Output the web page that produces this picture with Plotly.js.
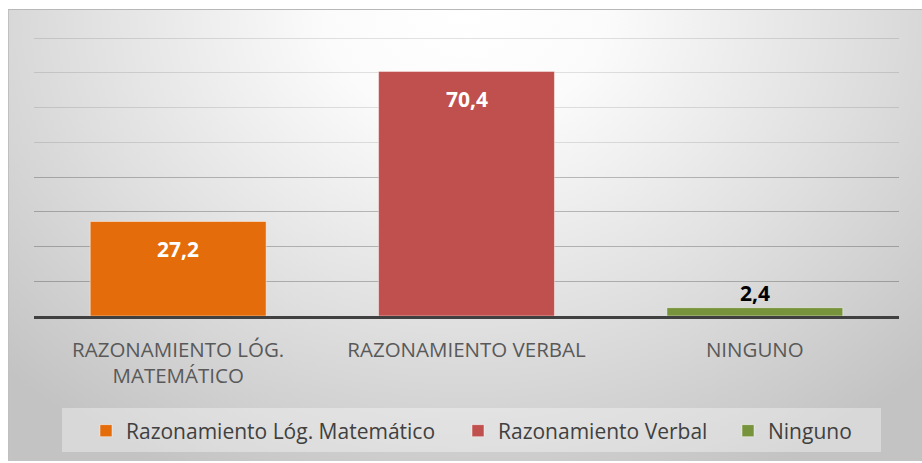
<!DOCTYPE html>
<html>
<head>
<meta charset="utf-8">
<script src="https://cdn.plot.ly/plotly-3.0.1.min.js"></script>
<style>
  html, body { margin: 0; padding: 0; background: #ffffff; }
  #wrap { position: relative; width: 922px; height: 463px; overflow: hidden; }
  #bg { position: absolute; left: 8px; top: 9px; right: 0; bottom: 2px;
        border-top: 1px solid #b8b8b8; border-left: 1px solid #c0c0c0;
        background: radial-gradient(ellipse 70% 115% at 50% 0%, #ffffff 0%, #fbfbfb 22%, #dfdfdf 62%, #c3c3c3 100%); }
  #chart { position: absolute; left: 0; top: 0; width: 922px; height: 463px; }
</style>
</head>
<body>
<div id="wrap">
  <div id="bg"></div>
  <div id="chart"></div>
</div>
<script>
// ---- data ----
var categories = ["RAZONAMIENTO LÓG.<br>MATEMÁTICO", "RAZONAMIENTO VERBAL", "NINGUNO"];
var seriesNames = ["Razonamiento Lóg. Matemático", "Razonamiento Verbal", "Ninguno"];
var values = [27.2, 70.4, 2.4];
var barColors = ["#E46C0A", "#C0504D", "#77933C"];
var labelColors = ["#ffffff", "#ffffff", "#000000"];
var labelShift = [-28, -28, 15];
var upperTicks = [50, 60, 70, 80];
var lowerTicks = [10, 20, 30, 40];

// ---- layout geometry ----
var W = 922, H = 463;
var M = { l: 34, r: 23, t: 37, b: 147 };
var plotW = W - M.l - M.r, plotH = H - M.t - M.b;
function px2x(px) { return (px - M.l) / plotW; }
function py2y(py) { return (H - M.b - py) / plotH; }
var FONT = "'Open Sans', sans-serif";
var legendKeys = ["legend", "legend2", "legend3"];
var legendLeft = [86, 458, 728];

var traces = seriesNames.map(function (name, i) {
  return {
    type: "bar",
    name: name,
    x: [categories[i]],
    y: [values[i]],
    legend: legendKeys[i],
    marker: { color: barColors[i], line: { color: "rgba(255,255,255,0.45)", width: 1 } },
    hoverinfo: "none",
    showlegend: true
  };
});

var annotations = values.map(function (v, i) {
  return {
    x: categories[i], y: v, xref: "x", yref: "y",
    text: "<b>" + v.toFixed(1).replace(".", ",") + "</b>",
    showarrow: false, yshift: labelShift[i],
    font: { family: FONT, size: 21, color: labelColors[i] }
  };
});

var layout = {
  width: W, height: H,
  margin: M,
  paper_bgcolor: "rgba(0,0,0,0)",
  plot_bgcolor: "rgba(0,0,0,0)",
  barmode: "overlay",
  bargap: 0.39,
  font: { family: FONT, color: "#595959" },
  xaxis: {
    type: "category",
    categoryorder: "array",
    categoryarray: categories,
    showline: true, linecolor: "#404040", linewidth: 3,
    ticks: "", showgrid: false,
    tickfont: { size: 20.5, color: "#595959", family: FONT },
    ticklabelstandoff: 13,
    fixedrange: true
  },
  yaxis: {
    range: [0, 80.3],
    tickvals: lowerTicks,
    showticklabels: false,
    showgrid: true,
    gridcolor: "rgba(0,0,0,0.24)",
    gridwidth: 1,
    zeroline: false,
    showline: false,
    fixedrange: true
  },
  yaxis2: {
    overlaying: "y",
    range: [0, 80.3],
    tickvals: upperTicks,
    showticklabels: false,
    showgrid: true,
    gridcolor: "rgba(0,0,0,0.11)",
    gridwidth: 1,
    zeroline: false,
    showline: false,
    fixedrange: true
  },
  showlegend: true,
  shapes: [{
    type: "rect", xref: "paper", yref: "paper", layer: "below",
    x0: px2x(62), x1: px2x(881), y0: py2y(452), y1: py2y(408),
    fillcolor: "rgba(255,255,255,0.35)", line: { width: 0 }
  }],
  annotations: annotations
};

legendKeys.forEach(function (k, i) {
  layout[k] = {
    orientation: "h",
    x: px2x(legendLeft[i]), xanchor: "left",
    y: py2y(431), yanchor: "middle",
    bgcolor: "rgba(0,0,0,0)",
    font: { size: 21, color: "#404040", family: FONT }
  };
});

// dummy trace to activate yaxis2 gridlines
traces.push({ type: "scatter", x: [categories[0]], y: [0], yaxis: "y2", mode: "none", showlegend: false, hoverinfo: "none" });

Plotly.newPlot("chart", traces, layout, { displayModeBar: false, staticPlot: true });
</script>
</body>
</html>
